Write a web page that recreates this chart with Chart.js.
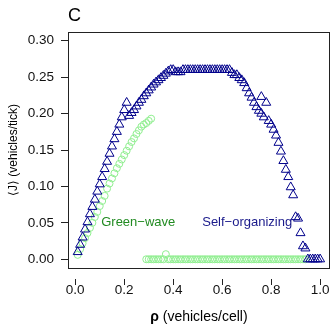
<!DOCTYPE html>
<html>
<head>
<meta charset="utf-8">
<script src="https://cdn.jsdelivr.net/npm/chart.js@4/dist/chart.umd.min.js"></script>
<style>
  html, body { margin: 0; padding: 0; background: #fff; }
</style>
</head>
<body>
<canvas id="c" width="336" height="330"></canvas>
<script>
// Self-organizing (blue triangles)
var rhoSelf = [0.01, 0.02, 0.03, 0.04, 0.05, 0.06, 0.07, 0.08, 0.09, 0.10,
  0.11, 0.12, 0.13, 0.14, 0.15, 0.16, 0.17, 0.18, 0.19, 0.20,
  0.21, 0.22, 0.23, 0.24, 0.25, 0.26, 0.27, 0.28, 0.29, 0.30,
  0.31, 0.32, 0.33, 0.34, 0.35, 0.36, 0.37, 0.38, 0.39, 0.40,
  0.41, 0.42, 0.43, 0.44, 0.45, 0.46, 0.47, 0.48, 0.49, 0.50,
  0.51, 0.52, 0.53, 0.54, 0.55, 0.56, 0.57, 0.58, 0.59, 0.60,
  0.61, 0.62, 0.63, 0.64, 0.65, 0.66, 0.67, 0.68, 0.69, 0.70,
  0.71, 0.72, 0.73, 0.74, 0.75, 0.76, 0.76, 0.77, 0.78, 0.79, 0.80,
  0.81, 0.82, 0.83, 0.84, 0.85, 0.86, 0.87, 0.88, 0.89, 0.90,
  0.91, 0.92, 0.93, 0.94, 0.95, 0.96, 0.97, 0.98, 0.99, 1.00];
var jSelf = [0.010, 0.020, 0.030, 0.041, 0.051, 0.062, 0.072, 0.082, 0.093, 0.103,
  0.113, 0.124, 0.134, 0.145, 0.155, 0.165, 0.175, 0.185, 0.195, 0.205,
  0.215, 0.197, 0.201, 0.205, 0.210, 0.215, 0.219, 0.224, 0.228, 0.232,
  0.236, 0.240, 0.243, 0.246, 0.249, 0.252, 0.255, 0.258, 0.260, 0.260,
  0.257, 0.257, 0.257, 0.260, 0.260, 0.260, 0.260, 0.260, 0.260, 0.260,
  0.260, 0.260, 0.260, 0.260, 0.260, 0.260, 0.260, 0.260, 0.260, 0.260,
  0.260, 0.260, 0.260, 0.256, 0.253, 0.253, 0.249, 0.246, 0.242, 0.235,
  0.228, 0.222, 0.215, 0.209, 0.204, 0.200, 0.223, 0.195, 0.215, 0.190, 0.185,
  0.178, 0.170, 0.160, 0.148, 0.135, 0.123, 0.113, 0.099, 0.088, 0.058,
  0.056, 0.036, 0.018, 0.015, 0.000, 0.000, 0.000, 0.000, 0.000, 0.000];

// Green-wave, free-flow branch (light green circles)
var rhoGreenUp = [0.01, 0.02, 0.03, 0.04, 0.05, 0.06, 0.07, 0.08, 0.09, 0.10,
  0.11, 0.12, 0.13, 0.14, 0.15, 0.16, 0.17, 0.18, 0.19, 0.20,
  0.21, 0.22, 0.23, 0.24, 0.25, 0.26, 0.27, 0.28, 0.29, 0.30, 0.31];
var jGreenUp = [0.006, 0.014, 0.022, 0.029, 0.036, 0.043, 0.050, 0.058, 0.065, 0.073,
  0.080, 0.087, 0.097, 0.104, 0.111, 0.118, 0.125, 0.131, 0.137, 0.143,
  0.149, 0.155, 0.161, 0.166, 0.172, 0.177, 0.182, 0.185, 0.187, 0.190, 0.193];

// Green-wave, jammed branch
var rhoGreenJam = [0.29, 0.30, 0.31, 0.32, 0.33, 0.34, 0.35, 0.36, 0.37, 0.38,
  0.39, 0.40, 0.41, 0.42, 0.43, 0.44, 0.45, 0.46, 0.47, 0.48,
  0.49, 0.50, 0.51, 0.52, 0.53, 0.54, 0.55, 0.56, 0.57, 0.58,
  0.59, 0.60, 0.61, 0.62, 0.63, 0.64, 0.65, 0.66, 0.67, 0.68,
  0.69, 0.70, 0.71, 0.72, 0.73, 0.74, 0.75, 0.76, 0.77, 0.78,
  0.79, 0.80, 0.81, 0.82, 0.83, 0.84, 0.85, 0.86, 0.87, 0.88,
  0.89, 0.90, 0.91, 0.92, 0.93, 0.94];
var jGreenJam = [0, 0, 0, 0, 0, 0, 0, 0, 0.007, 0,
  0, 0, 0, 0, 0, 0, 0, 0, 0, 0,
  0, 0, 0, 0, 0, 0, 0, 0, 0, 0,
  0, 0, 0, 0, 0, 0, 0, 0, 0, 0,
  0, 0, 0, 0, 0, 0, 0, 0, 0, 0,
  0, 0, 0, 0, 0, 0, 0, 0, 0, 0,
  0, 0, 0, 0, 0, 0];

var xTicks = [0, 0.2, 0.4, 0.6, 0.8, 1.0];
var yTicks = [0, 0.05, 0.10, 0.15, 0.20, 0.25, 0.30];

function pts(xs, ys) {
  return xs.map(function (x, i) { return { x: x, y: ys[i] }; });
}

var FONT = '"Liberation Sans", Arial, Helvetica, sans-serif';

var decor = {
  id: 'decor',
  afterDraw: function (chart) {
    var ctx = chart.ctx, a = chart.chartArea;
    var sx = chart.scales.x, sy = chart.scales.y;
    ctx.save();
    // box
    ctx.strokeStyle = '#222';
    ctx.lineWidth = 1;
    ctx.strokeRect(Math.round(a.left) + 0.5, Math.round(a.top) + 0.5,
      Math.round(a.right - a.left) - 1, Math.round(a.bottom - a.top));
    // panel letter
    ctx.fillStyle = '#000';
    ctx.font = '18px ' + FONT;
    ctx.textAlign = 'left';
    ctx.textBaseline = 'middle';
    ctx.fillText('C', 68, 16);
    // x title, bold rho
    ctx.font = 'bold 14px ' + FONT;
    var w1 = ctx.measureText('ρ').width;
    ctx.font = '14px ' + FONT;
    var rest = ' (vehicles/cell)';
    var w2 = ctx.measureText(rest).width;
    var x0 = (a.left + a.right) / 2 - (w1 + w2) / 2;
    ctx.font = 'bold 14px ' + FONT;
    ctx.fillText('ρ', x0, 317);
    ctx.font = '14px ' + FONT;
    ctx.fillText(rest, x0 + w1, 317);
    // y title
    ctx.save();
    ctx.translate(14, (a.top + a.bottom) / 2);
    ctx.rotate(-Math.PI / 2);
    ctx.textAlign = 'center';
    ctx.font = '12px ' + FONT;
    ctx.fillText('⟨J⟩ (vehicles/tick)', 0, 0);
    ctx.restore();
    // series labels
    ctx.font = '13px ' + FONT;
    ctx.fillStyle = '#228B22';
    ctx.textAlign = 'left';
    ctx.fillText('Green−wave', sx.getPixelForValue(0.106), sy.getPixelForValue(0.05));
    ctx.fillStyle = '#1a1a8b';
    ctx.textAlign = 'right';
    ctx.fillText('Self−organizing', sx.getPixelForValue(0.886), sy.getPixelForValue(0.05));
    ctx.restore();
  }
};

new Chart(document.getElementById('c').getContext('2d'), {
  type: 'scatter',
  data: {
    datasets: [
      {
        label: 'Self-organizing',
        data: pts(rhoSelf, jSelf),
        pointStyle: 'triangle',
        pointRadius: 5.2,
        borderWidth: 1,
        borderColor: '#00008B',
        backgroundColor: 'rgba(0,0,0,0)'
      },
      {
        label: 'Green-wave',
        data: pts(rhoGreenUp, jGreenUp).concat(pts(rhoGreenJam, jGreenJam)),
        pointStyle: 'circle',
        pointRadius: 3.5,
        borderWidth: 1,
        borderColor: '#90EE90',
        backgroundColor: 'rgba(0,0,0,0)'
      }
    ]
  },
  options: {
    responsive: false,
    animation: false,
    layout: { padding: { top: 32, right: 1, left: 0, bottom: 0 } },
    plugins: { legend: { display: false }, tooltip: { enabled: false } },
    scales: {
      x: {
        type: 'linear',
        min: -0.0296,
        max: 1.0396,
        afterBuildTicks: function (s) { s.ticks = xTicks.map(function (v) { return { value: v }; }); },
        afterFit: function (s) { s.height = 62; },
        border: { display: false },
        grid: { drawOnChartArea: false, drawTicks: true, tickLength: 17, tickBorderDash: [0, 11, 6, 100], tickColor: '#222', tickWidth: 1 },
        ticks: {
          padding: -3,
          color: '#111',
          font: { family: FONT, size: 13.5 },
          maxRotation: 0,
          callback: function (v) { return v.toFixed(1); }
        }
      },
      y: {
        type: 'linear',
        min: -0.012,
        max: 0.312,
        afterBuildTicks: function (s) { s.ticks = yTicks.map(function (v) { return { value: v }; }); },
        afterFit: function (s) { s.width = 68; },
        border: { display: false },
        grid: { drawOnChartArea: false, drawTicks: true, tickLength: 7, tickColor: '#222', tickWidth: 1 },
        ticks: {
          padding: 7,
          color: '#111',
          font: { family: FONT, size: 13.5 },
          callback: function (v) { return v.toFixed(2); }
        }
      }
    }
  },
  plugins: [decor]
});
</script>
</body>
</html>
